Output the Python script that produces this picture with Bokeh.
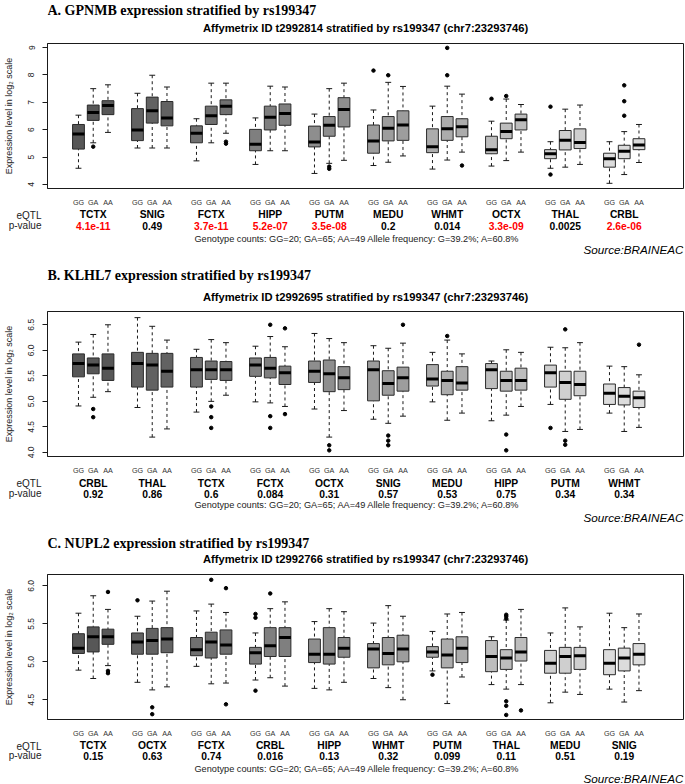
from bokeh.plotting import figure
from bokeh.models import (ColumnDataSource, Range1d, FixedTicker, PrintfTickFormatter)
from bokeh.layouts import column
from bokeh.core.properties import value
from bokeh.embed import file_html
from bokeh.resources import INLINE

GENOTYPES = ["GG", "GA", "AA"]
COUNTS_TEXT = "Genotype counts: GG=20; GA=65; AA=49  Allele frequency: G=39.2%; A=60.8%"
SOURCE_TEXT = "Source:BRAINEAC"
YLABEL = "Expression level in log\u2082 scale"
ROW_LABELS = ["eQTL", "p-value"]

# ---------------- Panel A: GPNMB ----------------
A_title = "A. GPNMB expression stratified by rs199347"
A_subtitle = "Affymetrix ID t2992814 stratified by rs199347 (chr7:23293746)"
A_tissues = ["TCTX", "SNIG", "FCTX", "HIPP", "PUTM", "MEDU", "WHMT", "OCTX", "THAL", "CRBL"]
A_pvals = [4.1e-11, 0.49, 3.7e-11, 5.2e-07, 3.5e-08, 0.2, 0.014, 3.3e-09, 0.0025, 2.6e-06]
A_lo = [[4.59, 5.52, 5.90], [5.33, 5.33, 5.33], [4.86, 5.52, 5.87], [4.73, 5.23, 5.23], [4.40, 4.77, 4.88],
        [4.69, 4.81, 5.04], [4.56, 4.89, 5.18], [4.67, 4.87, 5.18], [4.59, 4.63, 4.73], [4.04, 4.36, 4.80]]
A_q1 = [[5.29, 6.34, 6.55], [5.60, 6.24, 6.14], [5.52, 6.19, 6.55], [5.23, 5.99, 6.16], [5.37, 5.76, 6.10],
        [5.14, 5.59, 5.61], [5.16, 5.61, 5.74], [5.12, 5.67, 5.99], [4.94, 5.26, 5.31], [4.63, 4.94, 5.27]]
A_med = [[5.84, 6.63, 6.88], [5.99, 6.69, 6.43], [5.87, 6.51, 6.86], [5.47, 6.45, 6.59], [5.55, 6.16, 6.74],
         [5.59, 6.05, 6.17], [5.38, 6.03, 6.11], [5.27, 5.93, 6.36], [5.12, 5.61, 5.53], [4.94, 5.21, 5.44]]
A_q3 = [[6.19, 6.90, 7.06], [6.77, 7.19, 7.03], [6.14, 6.86, 7.09], [6.01, 6.86, 6.94], [6.13, 6.48, 7.17],
        [6.17, 6.48, 6.69], [6.03, 6.48, 6.40], [5.76, 6.24, 6.57], [5.27, 5.97, 6.03], [5.14, 5.43, 5.67]]
A_hi = [[6.53, 7.50, 7.64], [7.33, 7.99, 7.56], [6.40, 7.70, 7.70], [6.43, 7.59, 7.56], [6.57, 7.50, 7.70],
        [6.72, 7.73, 7.58], [6.86, 7.59, 7.30], [6.31, 7.12, 6.92], [5.56, 6.75, 6.90], [5.56, 5.93, 6.19]]
A_outliers = [("TCTX", "GA", 5.38), ("FCTX", "AA", 5.56), ("FCTX", "AA", 5.49), ("PUTM", "GA", 4.65),
              ("PUTM", "GA", 4.57), ("MEDU", "GG", 8.16), ("MEDU", "GA", 7.99), ("WHMT", "GA", 8.99),
              ("WHMT", "GA", 7.99), ("WHMT", "AA", 4.69), ("OCTX", "GG", 7.13), ("OCTX", "GA", 7.23),
              ("THAL", "GG", 6.84), ("THAL", "GG", 4.36), ("CRBL", "GA", 7.62), ("CRBL", "GA", 7.04),
              ("CRBL", "GA", 6.51)]
A_yticks = [4, 5, 6, 7, 8, 9]

# ---------------- Panel B: KLHL7 ----------------
B_title = "B. KLHL7 expression stratified by rs199347"
B_subtitle = "Affymetrix ID t2992695 stratified by rs199347 (chr7:23293746)"
B_tissues = ["CRBL", "THAL", "TCTX", "FCTX", "OCTX", "SNIG", "MEDU", "HIPP", "PUTM", "WHMT"]
B_pvals = [0.92, 0.86, 0.6, 0.084, 0.31, 0.57, 0.53, 0.75, 0.34, 0.34]
B_lo = [[4.91, 5.08, 5.19], [4.88, 4.30, 4.46], [4.79, 5.00, 5.12], [4.99, 4.97, 4.90], [4.85, 4.30, 4.82],
        [4.65, 4.57, 4.71], [4.99, 4.63, 4.77], [4.62, 4.73, 4.90], [4.94, 4.41, 4.45], [4.77, 4.41, 4.49]]
B_q1 = [[5.48, 5.54, 5.41], [5.28, 5.22, 5.28], [5.28, 5.43, 5.41], [5.49, 5.46, 5.33], [5.37, 5.19, 5.23],
        [5.01, 5.12, 5.20], [5.30, 5.13, 5.22], [5.25, 5.20, 5.22], [5.28, 5.04, 5.11], [4.94, 4.93, 4.88]]
B_med = [[5.74, 5.71, 5.65], [5.74, 5.71, 5.59], [5.62, 5.62, 5.62], [5.71, 5.65, 5.56], [5.59, 5.54, 5.46],
         [5.62, 5.35, 5.46], [5.44, 5.41, 5.36], [5.62, 5.41, 5.41], [5.56, 5.37, 5.33], [5.16, 5.10, 5.07]]
B_q3 = [[5.93, 5.85, 5.93], [5.96, 5.94, 5.94], [5.86, 5.79, 5.78], [5.85, 5.86, 5.69], [5.79, 5.81, 5.68],
        [5.79, 5.60, 5.67], [5.72, 5.59, 5.68], [5.74, 5.59, 5.65], [5.71, 5.59, 5.59], [5.34, 5.27, 5.20]]
B_hi = [[6.16, 6.31, 6.50], [6.64, 6.47, 6.20], [6.02, 6.21, 6.15], [6.08, 6.27, 6.07], [6.33, 6.23, 6.15],
        [6.09, 6.04, 6.14], [5.96, 6.20, 5.93], [5.79, 6.01, 5.96], [6.06, 6.05, 6.15], [5.69, 5.68, 5.52]]
B_outliers = [("CRBL", "GA", 4.85), ("CRBL", "GA", 4.69), ("TCTX", "GA", 4.90), ("TCTX", "GA", 4.69),
              ("TCTX", "GA", 4.48), ("FCTX", "GA", 6.50), ("FCTX", "GA", 4.71), ("FCTX", "GA", 4.48),
              ("FCTX", "AA", 6.43), ("FCTX", "AA", 4.75), ("OCTX", "GA", 4.14), ("OCTX", "GA", 4.04),
              ("SNIG", "GA", 4.33), ("SNIG", "GA", 4.23), ("SNIG", "GA", 4.14), ("SNIG", "AA", 6.50),
              ("MEDU", "GA", 6.28), ("HIPP", "GA", 4.35), ("HIPP", "GA", 4.04), ("PUTM", "GG", 4.48),
              ("PUTM", "GA", 6.41), ("PUTM", "GA", 4.23), ("PUTM", "GA", 4.15), ("WHMT", "AA", 6.11)]
B_yticks = [4.0, 4.5, 5.0, 5.5, 6.0, 6.5]

# ---------------- Panel C: NUPL2 ----------------
C_title = "C. NUPL2 expression stratified by rs199347"
C_subtitle = "Affymetrix ID t2992766 stratified by rs199347 (chr7:23293746)"
C_tissues = ["TCTX", "OCTX", "FCTX", "CRBL", "HIPP", "WHMT", "PUTM", "THAL", "MEDU", "SNIG"]
C_pvals = [0.15, 0.63, 0.74, 0.016, 0.13, 0.32, 0.099, 0.11, 0.51, 0.19]
C_lo = [[4.89, 4.78, 4.95], [4.73, 4.63, 4.67], [4.94, 4.71, 4.72], [4.76, 4.79, 4.68], [4.65, 4.63, 4.73],
        [4.78, 4.66, 4.50], [4.88, 4.45, 4.80], [4.70, 4.64, 4.70], [4.46, 4.60, 4.57], [4.64, 4.47, 4.62]]
C_q1 = [[5.11, 5.13, 5.23], [5.10, 5.10, 5.12], [5.08, 5.05, 5.10], [4.97, 5.07, 5.07], [4.99, 4.97, 5.06],
        [4.92, 4.96, 5.00], [5.06, 4.92, 4.99], [4.87, 4.90, 5.01], [4.85, 4.85, 4.90], [4.83, 4.88, 4.96]]
C_med = [[5.18, 5.33, 5.33], [5.26, 5.28, 5.30], [5.16, 5.26, 5.22], [5.12, 5.21, 5.32], [5.10, 5.10, 5.18],
         [5.17, 5.11, 5.17], [5.13, 5.09, 5.18], [5.07, 5.05, 5.13], [4.98, 5.07, 5.08], [4.98, 5.05, 5.10]]
C_q3 = [[5.37, 5.46, 5.43], [5.38, 5.44, 5.45], [5.32, 5.39, 5.42], [5.19, 5.45, 5.45], [5.30, 5.45, 5.32],
        [5.24, 5.32, 5.35], [5.20, 5.30, 5.33], [5.28, 5.16, 5.32], [5.15, 5.19, 5.19], [5.16, 5.18, 5.24]]
C_hi = [[5.64, 5.87, 5.69], [5.60, 5.80, 5.93], [5.67, 5.76, 5.65], [5.38, 5.70, 5.79], [5.53, 5.70, 5.66],
        [5.51, 5.74, 5.60], [5.40, 5.63, 5.65], [5.33, 5.55, 5.69], [5.38, 5.71, 5.46], [5.64, 5.45, 5.63]]
C_outliers = [("TCTX", "AA", 5.92), ("TCTX", "AA", 4.88), ("TCTX", "AA", 4.85), ("OCTX", "GG", 5.81),
              ("OCTX", "GA", 4.40), ("OCTX", "GA", 4.31), ("FCTX", "GA", 6.08), ("FCTX", "AA", 5.97),
              ("FCTX", "AA", 4.44), ("CRBL", "GG", 5.63), ("CRBL", "GG", 5.58), ("CRBL", "GG", 4.62),
              ("CRBL", "GA", 5.90), ("PUTM", "GG", 4.83), ("THAL", "GA", 5.62), ("THAL", "GA", 5.60),
              ("THAL", "GA", 5.57), ("THAL", "GA", 4.48), ("THAL", "GA", 4.42), ("THAL", "GA", 4.30),
              ("THAL", "AA", 4.36)]
C_yticks = [4.5, 5.0, 5.5, 6.0]

# ---------------- style / layout ----------------
W = 685
FRAME_L, FRAME_R = 47, 2
FRAME_H = 153
PLOT_TOP, PLOT_BOTTOM = 1, 13
FRAME_W = W - FRAME_L - FRAME_R
UNIT_PX = 14.75
X0 = -2.1
X1 = X0 + FRAME_W / UNIT_PX
GRAYS = ["#575757", "#626262", "#707070", "#7f7f7f", "#8e8e8e",
         "#9d9d9d", "#acacac", "#bdbdbd", "#cfcfcf", "#dcdcdc"]
SANS = "Liberation Sans"
SERIF = "Liberation Serif"
INK = "#1a1a1a"


def base_fig(h, yr, x_axis, y_axis):
    kw = {}
    if not x_axis:
        kw["x_axis_type"] = None
    if not y_axis:
        kw["y_axis_type"] = None
    f = figure(width=W, height=h, x_range=Range1d(X0, X1), y_range=yr,
               output_backend="svg", toolbar_location=None, title=None,
               min_border_left=FRAME_L, min_border_right=FRAME_R,
               min_border_top=0, min_border_bottom=0, **kw)
    f.xgrid.visible = False
    f.ygrid.visible = False
    f.outline_line_color = None
    f.background_fill_color = "white"
    f.border_fill_color = "white"
    return f


def txt(fig, x, y, text, align, size, font=SANS, style="normal", color="#222222"):
    fig.text(x=[x], y=[y], text=[text], text_align=align, text_baseline="middle",
             text_font=value(font), text_font_style=style, text_font_size=size, text_color=color)


def panel(title, subtitle, tissues, pvals, lo, q1, med, q3, hi, outliers,
          yr, yticks, yfmt, height, top, above, below):
    y0, y1 = yr
    top_h = top - PLOT_TOP
    plot_h = PLOT_TOP + FRAME_H + PLOT_BOTTOM
    bot_h = height - top_h - plot_h

    # ---- title strip (y = px above the strip bottom) ----
    ts = base_fig(top_h, Range1d(0, top_h), False, False)
    txt(ts, X0, above[0] - PLOT_TOP, title, "left", "14px", SERIF, "bold", "black")
    txt(ts, (X0 + X1) / 2, above[1] - PLOT_TOP, subtitle, "center", "11.2px", SANS, "bold", "black")

    # ---- box plot ----
    p = figure(width=W, height=plot_h, x_range=Range1d(X0, X1), y_range=Range1d(y0, y1),
               output_backend="svg", toolbar_location=None, title=None,
               min_border_left=FRAME_L, min_border_right=FRAME_R,
               min_border_top=PLOT_TOP, min_border_bottom=PLOT_BOTTOM)
    p.xgrid.visible = False
    p.ygrid.visible = False
    p.outline_line_color = INK
    p.outline_line_width = 1
    p.background_fill_color = "white"
    p.border_fill_color = "white"

    d = dict(x=[], l=[], r=[], cl=[], cr=[], lo=[], q1=[], med=[], q3=[], hi=[], fill=[])
    for k in range(len(tissues)):
        for j in range(3):
            x = 4 * k + j
            d["x"].append(x)
            d["l"].append(x - 0.4)
            d["r"].append(x + 0.4)
            d["cl"].append(x - 0.2)
            d["cr"].append(x + 0.2)
            d["lo"].append(lo[k][j])
            d["q1"].append(q1[k][j])
            d["med"].append(med[k][j])
            d["q3"].append(q3[k][j])
            d["hi"].append(hi[k][j])
            d["fill"].append(GRAYS[k])
    src = ColumnDataSource(d)

    p.segment(x0="x", y0="hi", x1="x", y1="q3", source=src, line_color=INK, line_width=1, line_dash="3 3")
    p.segment(x0="x", y0="lo", x1="x", y1="q1", source=src, line_color=INK, line_width=1, line_dash="3 3")
    p.segment(x0="cl", y0="hi", x1="cr", y1="hi", source=src, line_color=INK, line_width=1)
    p.segment(x0="cl", y0="lo", x1="cr", y1="lo", source=src, line_color=INK, line_width=1)
    p.quad(left="l", right="r", bottom="q1", top="q3", source=src,
           fill_color="fill", line_color="#2a2a2a", line_width=1)
    p.segment(x0="l", y0="med", x1="r", y1="med", source=src, line_color="black", line_width=3)

    ox = [4 * tissues.index(t) + GENOTYPES.index(g) for t, g, v in outliers]
    oy = [v for t, g, v in outliers]
    p.scatter(ox, oy, size=3.5, color="black")

    xa = p.xaxis[0]
    xa.ticker = FixedTicker(ticks=d["x"])
    xa.major_label_overrides = {x: GENOTYPES[i % 3] for i, x in enumerate(d["x"])}
    xa.axis_line_color = None
    xa.major_tick_line_color = None
    xa.minor_tick_line_color = None
    xa.major_label_text_font = SANS
    xa.major_label_text_font_size = "7.2px"
    xa.major_label_text_color = "#333333"
    xa.major_label_standoff = 3

    yax = p.yaxis[0]
    yax.ticker = FixedTicker(ticks=yticks)
    yax.formatter = PrintfTickFormatter(format=yfmt)
    yax.major_label_orientation = "vertical"
    yax.minor_tick_line_color = None
    yax.major_tick_in = 0
    yax.major_tick_out = 5
    yax.axis_line_color = INK
    yax.major_tick_line_color = INK
    yax.major_label_text_font = SANS
    yax.major_label_text_font_size = "8.5px"
    yax.major_label_text_color = "#222222"
    yax.major_label_standoff = 8
    yax.axis_label = YLABEL
    yax.axis_label_text_font = SANS
    yax.axis_label_text_font_style = "normal"
    yax.axis_label_text_font_size = "9px"
    yax.axis_label_text_color = "#222222"
    yax.axis_label_standoff = 12

    # ---- bottom strip (y = px below the strip top, flipped range) ----
    off = PLOT_BOTTOM
    bs = base_fig(bot_h, Range1d(bot_h, 0), False, True)
    rows = [below[1] - off, below[2] - off]
    bax = bs.yaxis[0]
    bax.ticker = FixedTicker(ticks=rows)
    bax.major_label_overrides = {rows[i]: ROW_LABELS[i] for i in range(2)}
    bax.axis_line_color = None
    bax.major_tick_line_color = None
    bax.minor_tick_line_color = None
    bax.major_label_standoff = 0
    bax.major_label_text_font = SANS
    bax.major_label_text_font_size = "10px"
    bax.major_label_text_color = "#222222"

    centers = [4 * k + 1 for k in range(len(tissues))]
    ptxt = [f"{v:.2g}" for v in pvals]
    pcol = ["#ff0000" if v < 1e-4 else "black" for v in pvals]
    lsrc = ColumnDataSource(dict(x=centers, yt=[rows[0]] * len(tissues), yp=[rows[1]] * len(tissues),
                                 tissue=tissues, ptxt=ptxt, pcol=pcol))
    bs.text(x="x", y="yt", text="tissue", source=lsrc, text_align="center", text_baseline="middle",
            text_font=value(SANS), text_font_style="bold", text_font_size="10.3px", text_color="black")
    bs.text(x="x", y="yp", text="ptxt", source=lsrc, text_align="center", text_baseline="middle",
            text_font=value(SANS), text_font_style="bold", text_font_size="10.3px", text_color="pcol")
    txt(bs, (X0 + X1) / 2 - 7 / UNIT_PX, below[3] - off, COUNTS_TEXT, "center", "9.2px")
    txt(bs, X1, below[4] - off, SOURCE_TEXT, "right", "11.7px", SANS, "italic", "black")

    return [ts, p, bs]


pA = panel(A_title, A_subtitle, A_tissues, A_pvals, A_lo, A_q1, A_med, A_q3, A_hi, A_outliers,
           (3.85, 9.15), A_yticks, "%d", 258, 43, (33, 16), (7, 18, 29, 42, 52.5))
pB = panel(B_title, B_subtitle, B_tissues, B_pvals, B_lo, B_q1, B_med, B_q3, B_hi, B_outliers,
           (3.92, 6.76), B_yticks, "%.1f", 268, 53, (36, 14.5), (7.4, 19, 29, 40.7, 52.5))
pC = panel(C_title, C_subtitle, C_tissues, C_pvals, C_lo, C_q1, C_med, C_q3, C_hi, C_outliers,
           (4.24, 6.15), C_yticks, "%.1f", 258, 48, (31, 16), (7.3, 18.3, 28.3, 41.6, 51))

layout = column(*(pA + pB + pC), spacing=0)
open("out.html", "w").write(file_html(layout, INLINE))
